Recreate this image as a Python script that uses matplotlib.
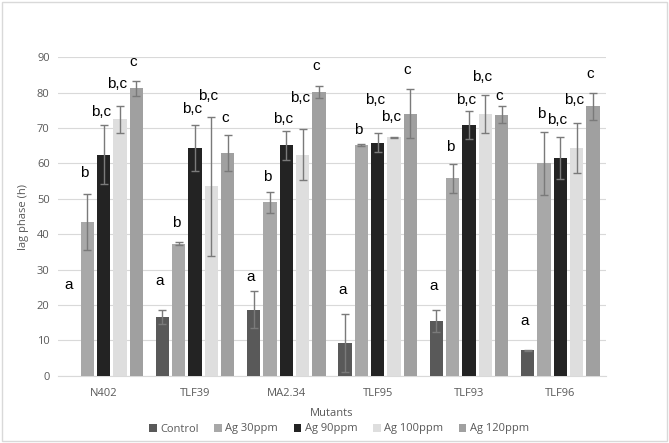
import matplotlib
matplotlib.use("Agg")
import matplotlib.pyplot as plt
import numpy as np

mutants = ["N402", "TLF39", "MA2.34", "TLF95", "TLF93", "TLF96"]
series = ["Control", "Ag 30ppm", "Ag 90ppm", "Ag 100ppm", "Ag 120ppm"]

# lag phase (h), one list per treatment
control = [0.0, 16.5, 18.7, 9.2, 15.5, 7.2]
ag30 = [43.5, 37.3, 49.0, 65.2, 55.8, 60.0]
ag90 = [62.5, 64.5, 65.2, 65.9, 70.9, 61.5]
ag100 = [72.5, 53.5, 62.5, 67.4, 73.9, 64.3]
ag120 = [81.2, 63.0, 80.2, 74.1, 73.8, 76.2]

# error (+/-)
control_err = [0.0, 2.0, 5.2, 8.1, 3.2, 0.1]
ag30_err = [8.0, 0.4, 3.0, 0.2, 4.1, 8.8]
ag90_err = [8.3, 6.5, 4.1, 2.8, 4.0, 5.9]
ag100_err = [3.8, 19.7, 7.2, 0.2, 5.4, 7.0]
ag120_err = [2.2, 5.0, 1.6, 6.8, 2.3, 3.8]

# significance letters and the height they sit at
letters = [
    ["a", "b", "b,c", "b,c", "c"],
    ["a", "b", "b,c", "b,c", "c"],
    ["a", "b", "b,c", "b,c", "c"],
    ["a", "b", "b,c", "b,c", "c"],
    ["a", "b", "b,c", "b,c", "c"],
    ["a", "b", "b,c", "b,c", "c"],
]
letter_y = [
    [25.6, 57.2, 74.5, 82.4, 88.6],
    [26.7, 43.1, 75.3, 79.1, 72.8],
    [28.0, 56.3, 72.6, 78.6, 87.4],
    [24.2, 69.5, 77.8, 73.2, 86.4],
    [25.4, 64.7, 77.8, 84.5, 79.1],
    [15.5, 74.0, 72.3, 77.8, 85.3],
]

values = [control, ag30, ag90, ag100, ag120]
errors = [control_err, ag30_err, ag90_err, ag100_err, ag120_err]
colors = ["#595959", "#a8a8a8", "#232323", "#dedede", "#a0a0a0"]

plt.rcParams["font.family"] = ["Open Sans", "DejaVu Sans"]

fig = plt.figure(figsize=(6.69, 4.43), dpi=100)
ax = fig.add_axes([58 / 669, 1 - 375.7 / 443, 548 / 669, (375.7 - 57.3) / 443])

x = np.arange(len(mutants))
step = 0.179
width = 0.148
for i, (vals, errs) in enumerate(zip(values, errors)):
    pos = x + (i - 2) * step
    vals = np.array(vals)
    ax.bar(pos, vals, width, color=colors[i], label=series[i], zorder=3)
    keep = vals > 0
    ax.errorbar(pos[keep], vals[keep], yerr=np.array(errs)[keep], fmt="none",
                ecolor="#7a7a7a", elinewidth=1, capsize=3, capthick=1, zorder=4)
    for j in range(len(mutants)):
        ax.text(pos[j] - 0.03, letter_y[j][i], letters[j][i], ha="center", va="center",
                fontsize=11, family="Liberation Sans", color="black", zorder=5)

ax.set_xlim(-0.5, len(mutants) - 0.5)
ax.set_ylim(0, 90)
ax.set_yticks(range(0, 91, 10))
ax.set_xticks(x)
ax.set_xticklabels(mutants)
ax.yaxis.grid(True, color="#d9d9d9", linewidth=0.8, zorder=0)
ax.set_axisbelow(True)
for s in ["top", "right", "left"]:
    ax.spines[s].set_visible(False)
ax.spines["bottom"].set_color("#d9d9d9")
ax.tick_params(axis="both", length=0, labelsize=8, colors="#595959", pad=6)
ax.tick_params(axis="x", pad=9)
ax.set_ylabel("lag phase (h)", fontsize=8, color="#595959", labelpad=6)
ax.set_xlabel("Mutants", fontsize=8, color="#595959", labelpad=6)

handles, labels = ax.get_legend_handles_labels()
fig.legend(handles, labels, loc="center", bbox_to_anchor=(339 / 669, 1 - 429 / 443), ncol=5,
           frameon=False, fontsize=8, handlelength=0.7, handleheight=0.7,
           handletextpad=0.3, columnspacing=1.4, labelcolor="#595959")

# light outer border of the chart area
fig.patches.append(plt.Rectangle((0.003, 0.004), 0.994, 0.992, transform=fig.transFigure,
                                 fill=False, edgecolor="#d9d9d9", linewidth=1))

fig.savefig("out.png", dpi=100)
